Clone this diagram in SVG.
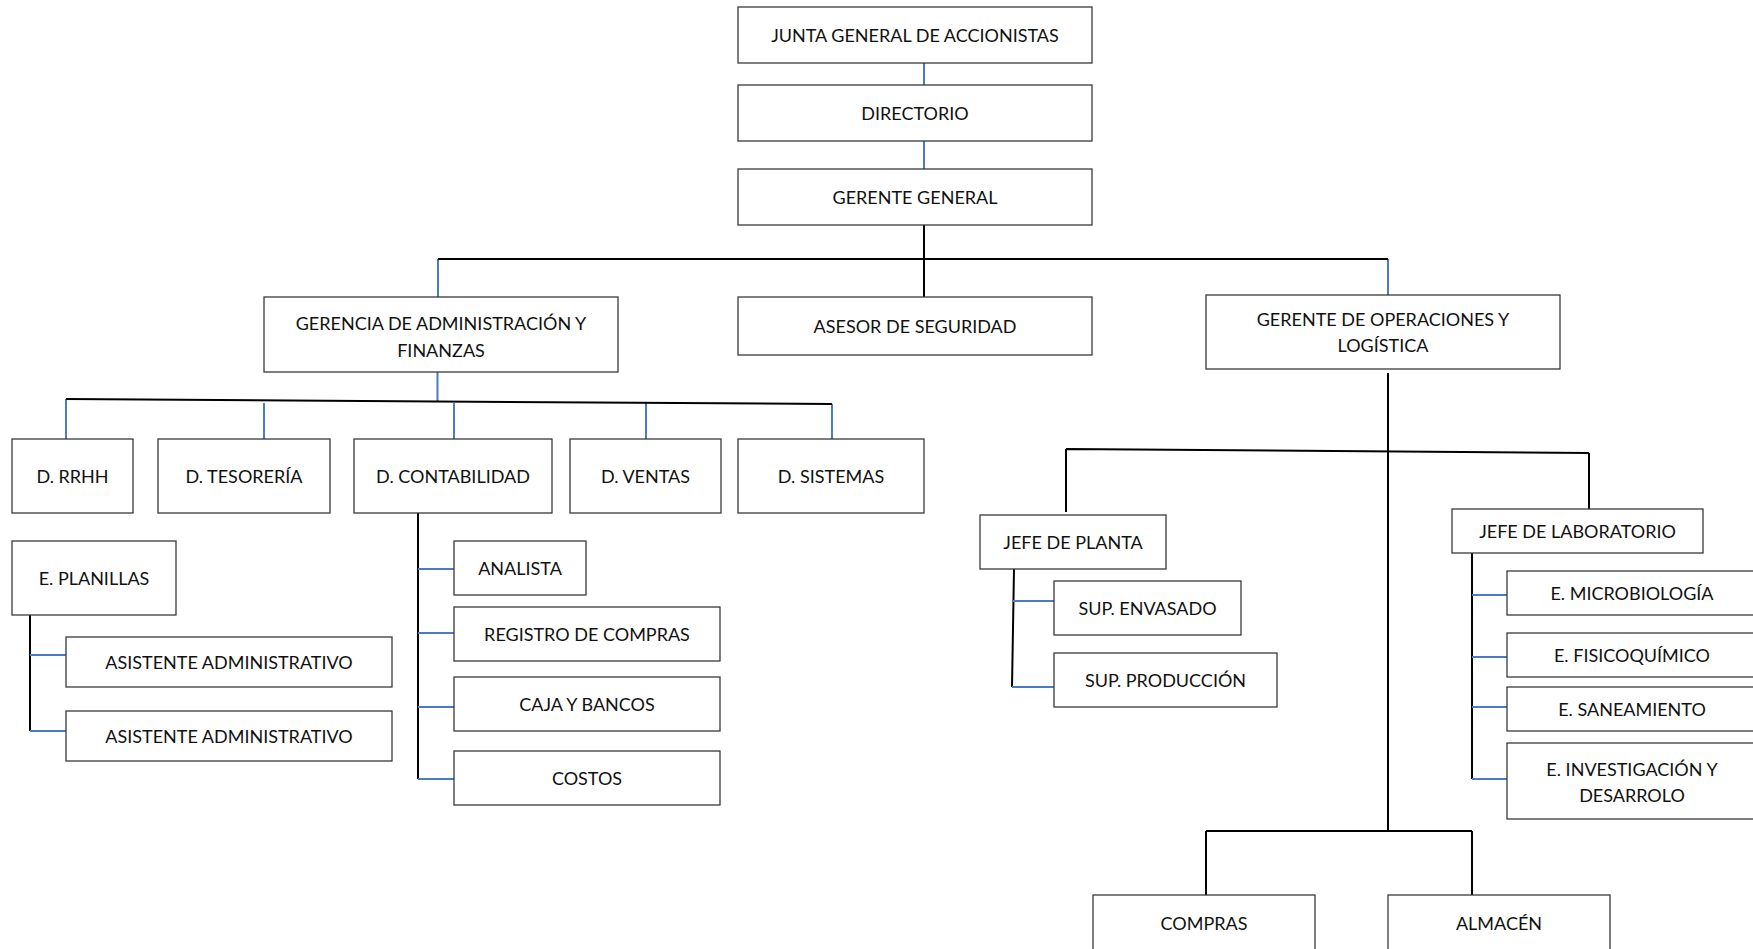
<svg xmlns="http://www.w3.org/2000/svg" width="1753" height="949" viewBox="0 0 1753 949">
<style>
.b{fill:#fff;stroke:#3a3a3a;stroke-width:1.3}
.t{font-family:Lato,"Liberation Sans",sans-serif;font-size:18px;fill:#111;text-anchor:middle}
.k{stroke:#000;stroke-width:2;fill:none}
.u{stroke:#4a7bc4;stroke-width:2;fill:none}
</style>
<rect width="1753" height="949" fill="#fff"/>
<g id="connectors">
<path class="u" d="M924 63V85M924 141V169M438 259V297M1388 259V295M437.5 372V402M66 399V439M264 403V439M454 403V439M646 403V439M832 404V439"/>
<path class="k" d="M924 225V297M438 259H1388M66 399L832 404M30 615V731M418 513V779M1388 373V831M1066 449L1589 453M1066 449V512M1589 453V509M1014 569L1012 687M1472 553V779M1206 831H1472M1206 831V895M1472 831V895"/>
<path class="u" d="M30 655H66M30 731H66M418 569H454M418 633H454M418 707H454M418 779H454M1013 601H1054M1012 687H1054M1472 595H1507M1472 657H1507M1472 707H1507M1472 779H1507"/>
</g>
<g id="junta"><rect class="b" x="738" y="7" width="354" height="56"/><text class="t" x="915" y="41.5">JUNTA GENERAL DE ACCIONISTAS</text></g>
<g id="directorio"><rect class="b" x="738" y="85" width="354" height="56"/><text class="t" x="915" y="119.5">DIRECTORIO</text></g>
<g id="gerente-general"><rect class="b" x="738" y="169" width="354" height="56"/><text class="t" x="915" y="203.5">GERENTE GENERAL</text></g>
<g id="gerencia-admin"><rect class="b" x="264" y="297" width="354" height="75"/><text class="t" x="441" y="329.5">GERENCIA DE ADMINISTRACIÓN Y</text><text class="t" x="441" y="356.5">FINANZAS</text></g>
<g id="asesor"><rect class="b" x="738" y="297" width="354" height="58"/><text class="t" x="915" y="332.5">ASESOR DE SEGURIDAD</text></g>
<g id="gerente-op"><rect class="b" x="1206" y="295" width="354" height="74"/><text class="t" x="1383" y="325.5">GERENTE DE OPERACIONES Y</text><text class="t" x="1383" y="351.5">LOGÍSTICA</text></g>
<g id="d-rrhh"><rect class="b" x="12" y="439" width="121" height="74"/><text class="t" x="72.5" y="482.5">D. RRHH</text></g>
<g id="d-tesoreria"><rect class="b" x="158" y="439" width="172" height="74"/><text class="t" x="244" y="482.5">D. TESORERÍA</text></g>
<g id="d-contabilidad"><rect class="b" x="354" y="439" width="198" height="74"/><text class="t" x="453" y="482.5">D. CONTABILIDAD</text></g>
<g id="d-ventas"><rect class="b" x="570" y="439" width="151" height="74"/><text class="t" x="645.5" y="482.5">D. VENTAS</text></g>
<g id="d-sistemas"><rect class="b" x="738" y="439" width="186" height="74"/><text class="t" x="831" y="482.5">D. SISTEMAS</text></g>
<g id="e-planillas"><rect class="b" x="12" y="541" width="164" height="74"/><text class="t" x="94" y="584.5">E. PLANILLAS</text></g>
<g id="asistente-1"><rect class="b" x="66" y="637" width="326" height="50"/><text class="t" x="229" y="668.5">ASISTENTE ADMINISTRATIVO</text></g>
<g id="asistente-2"><rect class="b" x="66" y="711" width="326" height="50"/><text class="t" x="229" y="742.5">ASISTENTE ADMINISTRATIVO</text></g>
<g id="analista"><rect class="b" x="454" y="541" width="132" height="54"/><text class="t" x="520" y="574.5">ANALISTA</text></g>
<g id="registro"><rect class="b" x="454" y="607" width="266" height="54"/><text class="t" x="587" y="640.5">REGISTRO DE COMPRAS</text></g>
<g id="caja"><rect class="b" x="454" y="677" width="266" height="54"/><text class="t" x="587" y="710.5">CAJA Y BANCOS</text></g>
<g id="costos"><rect class="b" x="454" y="751" width="266" height="54"/><text class="t" x="587" y="784.5">COSTOS</text></g>
<g id="jefe-planta"><rect class="b" x="980" y="515" width="186" height="54"/><text class="t" x="1073" y="548.5">JEFE DE PLANTA</text></g>
<g id="sup-envasado"><rect class="b" x="1054" y="581" width="187" height="54"/><text class="t" x="1147.5" y="614.5">SUP. ENVASADO</text></g>
<g id="sup-produccion"><rect class="b" x="1054" y="653" width="223" height="54"/><text class="t" x="1165.5" y="686.5">SUP. PRODUCCIÓN</text></g>
<g id="jefe-lab"><rect class="b" x="1452" y="509" width="251" height="44"/><text class="t" x="1577.5" y="537.5">JEFE DE LABORATORIO</text></g>
<g id="e-micro"><rect class="b" x="1507" y="571" width="250" height="44"/><text class="t" x="1632" y="599.5">E. MICROBIOLOGÍA</text></g>
<g id="e-fisico"><rect class="b" x="1507" y="633" width="250" height="44"/><text class="t" x="1632" y="661.5">E. FISICOQUÍMICO</text></g>
<g id="e-saneamiento"><rect class="b" x="1507" y="687" width="250" height="44"/><text class="t" x="1632" y="715.5">E. SANEAMIENTO</text></g>
<g id="e-investigacion"><rect class="b" x="1507" y="743" width="250" height="76"/><text class="t" x="1632" y="775.5">E. INVESTIGACIÓN Y</text><text class="t" x="1632" y="801.5">DESARROLO</text></g>
<g id="compras"><rect class="b" x="1093" y="895" width="222" height="58"/><text class="t" x="1204" y="929.5">COMPRAS</text></g>
<g id="almacen"><rect class="b" x="1388" y="895" width="222" height="58"/><text class="t" x="1499" y="929.5">ALMACÉN</text></g>
</svg>
